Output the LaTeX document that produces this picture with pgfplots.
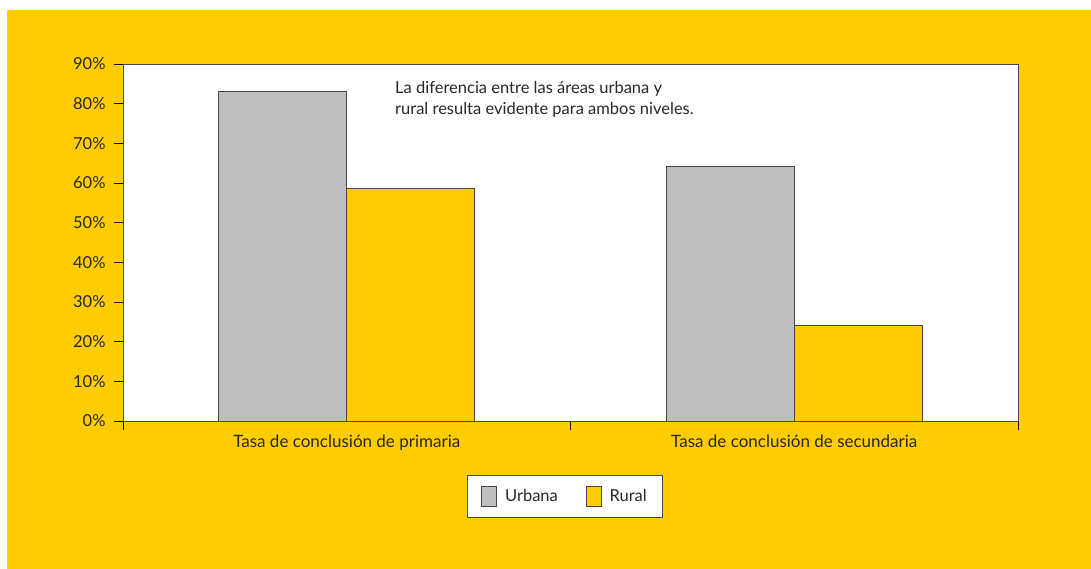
\documentclass[border=0pt]{standalone}
\usepackage{pgfplots}
\pgfplotsset{compat=1.18}
\usepackage{fontspec}
\setmainfont{Lato}
\definecolor{bgyellow}{RGB}{255,204,0}
\definecolor{bargray}{RGB}{188,190,192}
\definecolor{edgegray}{RGB}{70,70,70}
\definecolor{txt}{RGB}{40,40,40}
\begin{document}
\begin{tikzpicture}[x=1bp,y=1bp]
\fill[white] (0,0) rectangle (1091,-569);
\fill[bgyellow] (7,-10) rectangle (1091,-569);
\begin{axis}[
  at={(123bp,-421bp)}, anchor=south west,
  scale only axis, width=895bp, height=357bp,
  axis background/.style={fill=white},
  ybar=0pt, bar width=0.286,
  xmin=-0.5, xmax=1.5, ymin=0, ymax=90,
  xtick={-0.5,0.5,1.5}, xticklabels={},
  extra x ticks={0,1},
  extra x tick labels={Tasa de conclusión de primaria, Tasa de conclusión de secundaria},
  extra x tick style={major tick length=0pt, xticklabel style={yshift=-10bp, font=\fontsize{17bp}{20bp}\selectfont}},
  ytick={0,10,...,90},
  yticklabels={0\%,10\%,20\%,30\%,40\%,50\%,60\%,70\%,80\%,90\%},
  tick pos=left, tick align=outside,
  major tick length=9bp,
  tick style={black, line width=0.8pt},
  axis line style={edgegray, line width=0.8pt},
  ticklabel style={font=\fontsize{16.5bp}{19bp}\selectfont, text=txt},
  yticklabel style={xshift=-5bp},
  legend style={at={(0.4939,-0.2115)}, anchor=center, legend columns=2,
    draw=edgegray, line width=0.8pt, fill=white,
    font=\fontsize{16.5bp}{19bp}\selectfont, text=txt,
    inner xsep=13.5bp, inner ysep=10.5bp,
    /tikz/every odd column/.append style={column sep=6bp},
    /tikz/every even column/.append style={column sep=26bp}},
  legend image code/.code={\draw[#1, draw=edgegray, line width=0.8pt] (0bp,-10bp) rectangle (15bp,10bp);},
]
\addplot[fill=bargray, draw=edgegray, line width=0.8pt] coordinates {(0,83) (1,64.3)};
\addplot[fill=bgyellow, draw=edgegray, line width=0.8pt] coordinates {(0,58.7) (1,24.2)};
\legend{Urbana, Rural}
\node[anchor=north west, align=left, inner sep=0pt, text=txt,
  font=\fontsize{16.5bp}{21bp}\selectfont] at (axis description cs:0.3039,0.9524)
  {La diferencia entre las áreas urbana y\\rural resulta evidente para ambos niveles.};
\end{axis}
\pgfresetboundingbox
\useasboundingbox (0,0) rectangle (1091,-569);
\end{tikzpicture}
\end{document}
